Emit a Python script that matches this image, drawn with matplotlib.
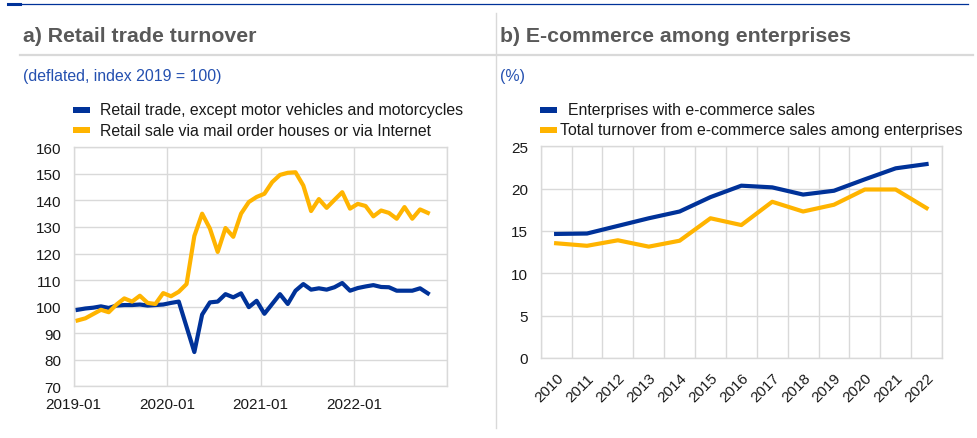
import matplotlib
matplotlib.use("Agg")
import matplotlib.pyplot as plt
from matplotlib.patches import Rectangle
from matplotlib.lines import Line2D
from matplotlib.transforms import Bbox, TransformedBbox

plt.rcParams['font.family'] = ['Liberation Sans', 'DejaVu Sans']

# ---------------- data ----------------
month_tick_labels = ['2019-01', '2020-01', '2021-01', '2022-01']
retail_trade = [98.8, 99.3, 99.6, 100.1, 99.5, 100.4, 100.6, 100.6, 100.8, 100.4,
                100.6, 100.8, 101.4, 101.9, 92.4, 82.9, 97.0, 101.6, 101.9, 104.7,
                103.5, 105.0, 99.8, 102.2, 97.3, 101.0, 104.7, 101.0, 106.0, 108.5,
                106.4, 106.9, 106.4, 107.3, 108.9, 106.0, 107.0, 107.6, 108.1, 107.4,
                107.3, 106.0, 106.0, 106.0, 106.9, 105.0]
online_sales = [94.8, 95.6, 97.2, 98.8, 97.9, 100.8, 103.1, 101.9, 104.1, 101.4,
                101.0, 105.1, 103.9, 105.6, 108.5, 126.6, 135.0, 129.4, 120.6, 129.6,
                126.3, 135.0, 139.4, 141.3, 142.5, 146.9, 149.6, 150.4, 150.6, 145.6,
                136.0, 140.5, 137.2, 140.2, 143.1, 136.9, 138.7, 137.9, 134.0, 136.2,
                135.3, 133.1, 137.5, 133.1, 136.6, 135.3]
years = ['2010', '2011', '2012', '2013', '2014', '2015', '2016', '2017', '2018',
         '2019', '2020', '2021', '2022']
ent_with_ecommerce = [14.65, 14.7, 15.6, 16.5, 17.3, 19.0, 20.35, 20.15, 19.3,
                      19.75, 21.1, 22.4, 22.9]
turnover_ecommerce = [13.55, 13.25, 13.9, 13.15, 13.85, 16.5, 15.7, 18.45, 17.3,
                      18.1, 19.9, 19.9, 17.7]

series_a = ['Retail trade, except motor vehicles and motorcycles',
            'Retail sale via mail order houses or via Internet']
series_b = ['Enterprises with e-commerce sales',
            'Total turnover from e-commerce sales among enterprises']

BLUE = '#003299'
YELLOW = '#ffb400'
GRID = '#d9d9d9'
TITLE = '#595959'
SUB = '#2450b0'
TXT = '#1a1a1a'
TICK_FS = 11
LEG_FS = 11.4

W, H = 978, 439
fig = plt.figure(figsize=(W / 100, H / 100), dpi=100)


def fx(px):
    return px / W


def fy(py):
    return 1 - py / H


def style_axes(ax):
    for s in ax.spines.values():
        s.set_color(GRID)
        s.set_linewidth(1.0)
    ax.grid(True, color=GRID, linewidth=1.0)
    ax.set_axisbelow(True)
    ax.tick_params(length=0, labelsize=TICK_FS, colors=TXT)


# ---------------- panel a ----------------
axL = fig.add_axes([fx(73.7), fy(387.3), fx(447.3 - 73.7), (387.3 - 148.3) / H])
xm = [i + 0.5 for i in range(len(retail_trade))]
axL.plot(xm, retail_trade, color=BLUE, lw=3.0, solid_joinstyle='round')
axL.plot(xm, online_sales, color=YELLOW, lw=3.0, solid_joinstyle='round')
axL.set_xlim(0, 48)
axL.set_ylim(70, 160)
axL.set_yticks(range(70, 161, 10))
axL.set_xticks([0, 12, 24, 36, 48])
axL.set_xticklabels(month_tick_labels + [''])
style_axes(axL)
axL.tick_params(axis='y', pad=9)
axL.tick_params(axis='x', pad=8)

# ---------------- panel b ----------------
axR = fig.add_axes([fx(540.7), fy(359), fx(942 - 540.7), (359 - 147.3) / H])
xc = [i + 0.5 for i in range(len(years))]
axR.plot(xc, ent_with_ecommerce, color=BLUE, lw=3.0, solid_joinstyle='round')
axR.plot(xc, turnover_ecommerce, color=YELLOW, lw=3.0, solid_joinstyle='round')
axR.set_xlim(0, len(years))
axR.set_ylim(0, 25)
axR.set_yticks(range(0, 26, 5))
axR.set_xticks(range(0, len(years) + 1), minor=False)
axR.set_xticklabels([])
axR.set_xticks(xc, minor=True)
axR.set_xticklabels(years, minor=True, rotation=45, ha='right',
                    rotation_mode='anchor')
style_axes(axR)
axR.tick_params(axis='x', which='minor', length=0, pad=9, labelsize=TICK_FS,
                colors=TXT)
axR.grid(False, which='minor')
axR.tick_params(axis='y', pad=9)

# ---------------- decorations ----------------
fig.add_artist(Line2D([fx(8), fx(968)], [fy(5.3), fy(5.3)], color=BLUE, lw=0.9))
fig.add_artist(Line2D([fx(8), fx(20)], [fy(5.3), fy(5.3)], color=BLUE, lw=2.2))
fig.add_artist(Line2D([fx(496.5), fx(496.5)], [fy(14), fy(429)], color=GRID, lw=1.0))
fig.add_artist(Line2D([fx(20), fx(973)], [fy(55.7), fy(55.7)], color=GRID, lw=1.6))

fig.text(fx(23), fy(36), 'a) Retail trade turnover', fontsize=15.3, fontweight='bold',
         color=TITLE, va='center', ha='left')
fig.text(fx(500), fy(36), 'b) E-commerce among enterprises', fontsize=15.3,
         fontweight='bold', color=TITLE, va='center', ha='left')
fig.text(fx(23), fy(77), '(deflated, index 2019 = 100)', fontsize=LEG_FS, color=SUB,
         va='center', ha='left')
fig.text(fx(500), fy(77), '(%)', fontsize=LEG_FS, color=SUB, va='center', ha='left')


def legend_entry(px, py, tx, color, label, clip_right=None):
    fig.add_artist(Rectangle((fx(px), fy(py + 3)), fx(17), 6 / H,
                             color=color, lw=0))
    t = fig.text(fx(tx), fy(py), label, fontsize=LEG_FS, color=TXT,
                 va='center', ha='left')
    if clip_right is not None:
        t.set_clip_on(True)
        t.set_clip_box(TransformedBbox(Bbox([[0, 0], [fx(clip_right), 1]]),
                                       fig.transFigure))


legend_entry(73, 111, 100, BLUE, series_a[0])
legend_entry(73, 131, 100, YELLOW, series_a[1])
legend_entry(540, 111, 568, BLUE, series_b[0])
legend_entry(540, 131, 560, YELLOW, series_b[1], clip_right=964)

fig.savefig('out.png', dpi=100)
